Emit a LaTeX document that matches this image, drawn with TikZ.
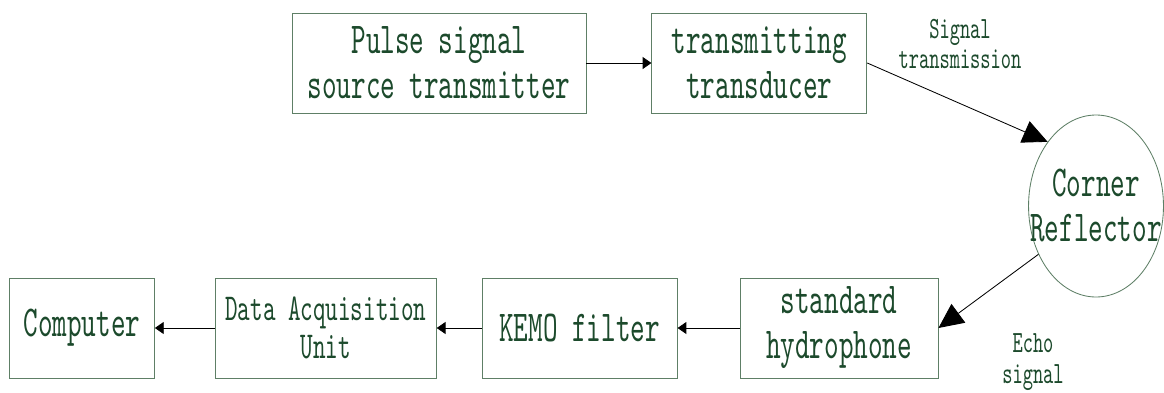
\documentclass[tikz,border=0pt]{standalone}
\usepackage{fontspec}
\newfontfamily\diagfont{lmmono10-regular.otf}[FakeStretch=0.63]
\usetikzlibrary{shapes.geometric, arrows.meta, positioning}
\usepackage{xcolor}
\definecolor{boxline}{HTML}{5E7F66}
\definecolor{inkgreen}{HTML}{1C4A2C}

\begin{document}
\begin{tikzpicture}[>={Triangle[length=0.22cm, width=0.3cm]},
  block/.style={rectangle, draw=boxline, line width=0.6pt, text=inkgreen, minimum height=2.5cm, inner sep=1pt, align=center, font=\diagfont\fontsize{31.4}{32}\selectfont},
  bigtip/.style={-{Triangle[length=0.62cm, width=0.58cm]}},
  note/.style={text=inkgreen, align=center, font=\diagfont\fontsize{22}{22}\selectfont}]
  \useasboundingbox (0,0) rectangle (29.1,9.8);
  \node[block, minimum width=7.35cm] (pulse) at (10.975,8.225) {Pulse signal\\source transmitter};
  \node[block, minimum width=5.375cm, right=1.625cm of pulse] (trans) {transmitting\\transducer};
  \node[ellipse, draw=boxline, line width=0.6pt, text=inkgreen, minimum width=3.35cm, minimum height=4.55cm, inner xsep=-0.45cm, inner ysep=0pt, align=center, font=\diagfont\fontsize{31.4}{32}\selectfont] (refl) at (27.4,4.65) {Corner\\Reflector};
  \node[block, minimum width=4.95cm] (hydro) at (20.975,1.6) {standard\\hydrophone};
  \node[block, minimum width=4.875cm, left=1.55cm of hydro] (kemo) {KEMO filter};
  \node[block, minimum width=5.525cm, left=1.125cm of kemo, font=\diagfont\fontsize{27}{27}\selectfont] (daq) {Data Acquisition\\Unit};
  \node[block, minimum width=3.625cm, left=1.5cm of daq] (comp) {Computer};
  \node[note] (sigtx) at (24.0,8.7) {Signal\\transmission};
  \node[note] (echo) at (25.825,0.75) {Echo\\signal};
  \draw[->, line width=0.6pt] (pulse) -- (trans);
  \draw[bigtip, line width=0.6pt] (trans.east) -- (refl.127);
  \draw[bigtip, line width=0.6pt] (refl.220) -- (hydro.east);
  \draw[->, line width=0.6pt] (hydro) -- (kemo);
  \draw[->, line width=0.6pt] (kemo) -- (daq);
  \draw[->, line width=0.6pt] (daq) -- (comp);
\end{tikzpicture}
\end{document}
